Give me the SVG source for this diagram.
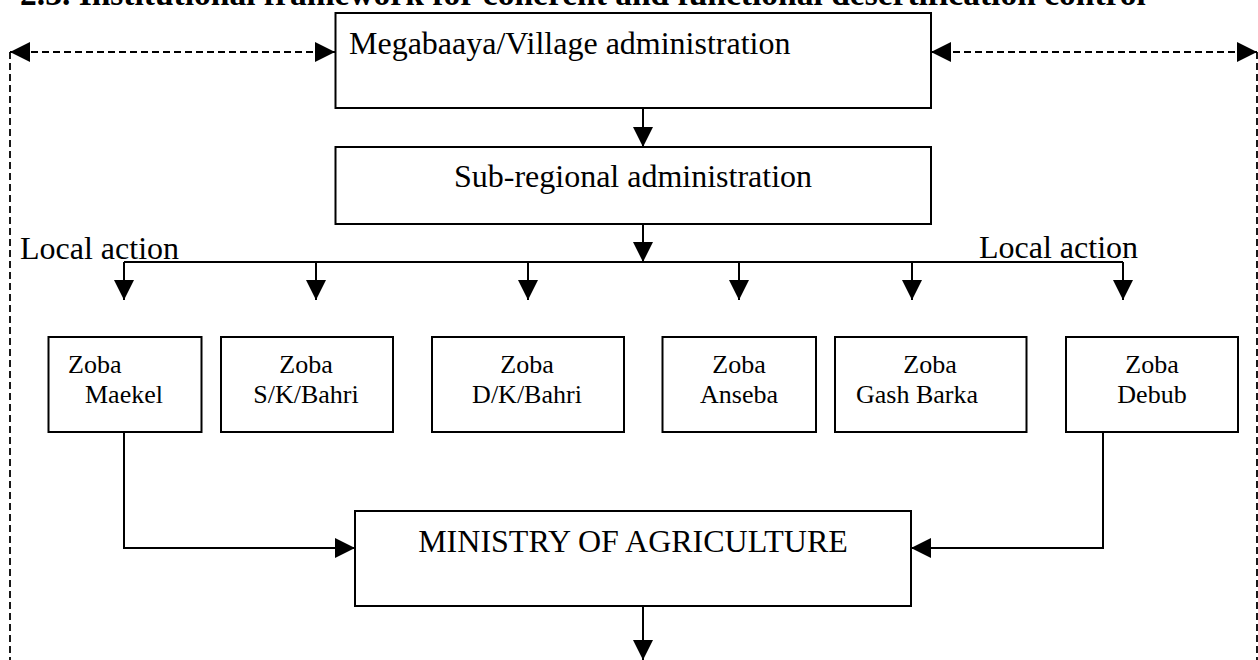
<svg xmlns="http://www.w3.org/2000/svg" width="1258" height="660" viewBox="0 0 1258 660">
<defs>
<marker id="ah" viewBox="0 0 20 20" refX="20" refY="10" markerWidth="20" markerHeight="20" markerUnits="userSpaceOnUse" orient="auto-start-reverse">
<path d="M0,0 L20,10 L0,20 Z" fill="#000"/>
</marker>
<style>
.box{fill:#fff;stroke:#000;stroke-width:2}
.t{font-family:"Liberation Serif","Times New Roman",serif;fill:#000}
.big{font-size:32px}
.sm{font-size:26px}
.ln{fill:none;stroke:#000;stroke-width:2}
.dash{fill:none;stroke:#000;stroke-width:1.8;stroke-dasharray:7,4}
</style>
</defs>
<rect width="1258" height="660" fill="#fff"/>
<text class="t" x="20" y="5" font-size="33.5" font-weight="bold">2.3. Institutional framework for coherent and functional desertification control</text>

<g id="connectors">
<path class="dash" d="M335,52 L10,52" marker-end="url(#ah)" marker-start="url(#ah)"/>
<path class="dash" d="M10,52 L10,660"/>
<path class="dash" d="M931,52 L1257,52" marker-end="url(#ah)" marker-start="url(#ah)"/>
<path class="dash" d="M1257,52 L1257,660"/>
<path class="ln" d="M643,108 L643,147" marker-end="url(#ah)"/>
<path class="ln" d="M643,224 L643,262" marker-end="url(#ah)"/>
<path class="ln" d="M124,262 L1123,262"/>
<path class="ln" d="M124,262 L124,300" marker-end="url(#ah)"/>
<path class="ln" d="M316,262 L316,300" marker-end="url(#ah)"/>
<path class="ln" d="M528,262 L528,300" marker-end="url(#ah)"/>
<path class="ln" d="M739,262 L739,300" marker-end="url(#ah)"/>
<path class="ln" d="M912,262 L912,300" marker-end="url(#ah)"/>
<path class="ln" d="M1123,262 L1123,300" marker-end="url(#ah)"/>
<path class="ln" d="M124,432 L124,548 L355,548" marker-end="url(#ah)"/>
<path class="ln" d="M1103,432 L1103,548 L911,548" marker-end="url(#ah)"/>
<path class="ln" d="M643,606 L643,660" marker-end="url(#ah)"/>
</g>

<g id="megabaaya">
<rect class="box" x="335.5" y="13" width="595.5" height="95"/>
<text class="t big" x="349" y="54">Megabaaya/Village administration</text>
</g>
<g id="subregional">
<rect class="box" x="335.5" y="147" width="595.5" height="77"/>
<text class="t big" x="633" y="187" text-anchor="middle">Sub-regional administration</text>
</g>
<g id="local-left"><text class="t big" x="20" y="259">Local action</text></g>
<g id="local-right"><text class="t big" x="979" y="258">Local action</text></g>

<g id="maekel">
<rect class="box" x="48.5" y="337" width="153" height="95"/>
<text class="t sm" x="68" y="373">Zoba</text>
<text class="t sm" x="85" y="403">Maekel</text>
</g>
<g id="skbahri">
<rect class="box" x="221" y="337" width="172" height="95"/>
<text class="t sm" x="306" y="373" text-anchor="middle">Zoba</text>
<text class="t sm" x="306" y="403" text-anchor="middle">S/K/Bahri</text>
</g>
<g id="dkbahri">
<rect class="box" x="432" y="337" width="192" height="95"/>
<text class="t sm" x="527" y="373" text-anchor="middle">Zoba</text>
<text class="t sm" x="527" y="403" text-anchor="middle">D/K/Bahri</text>
</g>
<g id="anseba">
<rect class="box" x="662.5" y="337" width="153.5" height="95"/>
<text class="t sm" x="739" y="373" text-anchor="middle">Zoba</text>
<text class="t sm" x="739" y="403" text-anchor="middle">Anseba</text>
</g>
<g id="gashbarka">
<rect class="box" x="835" y="337" width="191.5" height="95"/>
<text class="t sm" x="930" y="373" text-anchor="middle">Zoba</text>
<text class="t sm" x="856" y="403">Gash Barka</text>
</g>
<g id="debub">
<rect class="box" x="1066" y="337" width="172" height="95"/>
<text class="t sm" x="1152" y="373" text-anchor="middle">Zoba</text>
<text class="t sm" x="1152" y="403" text-anchor="middle">Debub</text>
</g>
<g id="ministry">
<rect class="box" x="355" y="511" width="556" height="95"/>
<text class="t big" x="633" y="552" text-anchor="middle">MINISTRY OF AGRICULTURE</text>
</g>
</svg>
